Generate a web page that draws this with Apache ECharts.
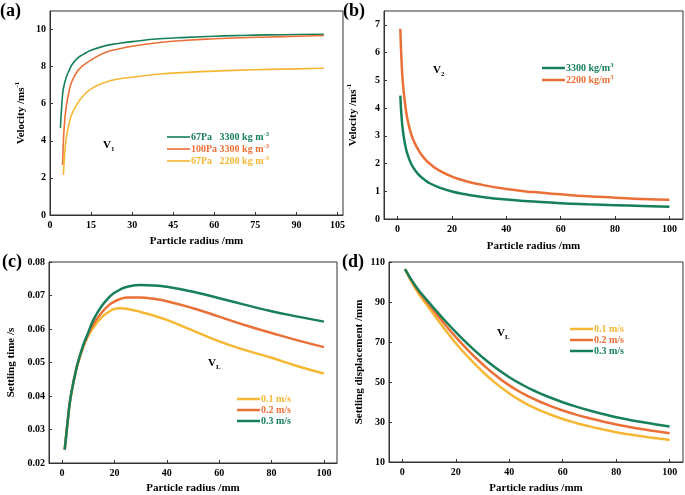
<!DOCTYPE html>
<html><head><meta charset="utf-8">
<script src="https://cdn.jsdelivr.net/npm/echarts@6/dist/echarts.min.js"></script>
<style>html,body{margin:0;padding:0;background:#fff}#c{width:685px;height:495px}</style>
</head><body><div id="c"></div>
<script>
// ---------- data ----------
// (a) V1 velocity vs particle radius
const aRadiusGreen  = [3.8, 4.2, 4.6, 5, 6, 7, 8, 10, 12, 15, 20, 25, 30, 40, 50, 60, 70, 80, 90, 100];
const aVelGreen     = [4.7, 5.7, 6.5, 6.9, 7.45, 7.8, 8.1, 8.45, 8.65, 8.88, 9.12, 9.25, 9.35, 9.5, 9.58, 9.64, 9.68, 9.71, 9.73, 9.75];
const aRadiusOrange = [4.6, 5, 5.5, 6, 7, 8, 10, 12, 15, 20, 25, 30, 40, 50, 60, 70, 80, 90, 100];
const aVelOrange    = [2.7, 4.3, 5.3, 5.9, 6.7, 7.2, 7.75, 8.05, 8.36, 8.75, 8.95, 9.1, 9.3, 9.42, 9.5, 9.56, 9.6, 9.64, 9.68];
const aRadiusYellow = [4.9, 5.3, 6, 7, 8, 10, 12, 15, 20, 25, 30, 40, 50, 60, 70, 80, 90, 100];
const aVelYellow    = [2.16, 3.2, 4.2, 4.95, 5.45, 6.0, 6.4, 6.8, 7.15, 7.33, 7.43, 7.6, 7.69, 7.76, 7.81, 7.85, 7.88, 7.91];
const aNames = ['67Pa   3300 kg m', '100Pa 3300 kg m', '67Pa   2200 kg m'];

// (b) V2 velocity
const bRadius    = [1, 1.5, 2, 3, 4, 5, 6, 8, 10, 12, 15, 20, 25, 30, 40, 50, 60, 70, 80, 90, 100];
const bVel3300   = [4.45, 3.63, 3.15, 2.57, 2.23, 1.99, 1.82, 1.57, 1.41, 1.28, 1.15, 0.99, 0.89, 0.81, 0.70, 0.63, 0.57, 0.53, 0.50, 0.47, 0.44];
const bVel2200   = [6.86, 5.6, 4.85, 3.96, 3.43, 3.07, 2.80, 2.43, 2.17, 1.98, 1.77, 1.53, 1.37, 1.25, 1.08, 0.97, 0.89, 0.82, 0.77, 0.72, 0.69];
const bNames = ['3300 kg/m', '2200 kg/m'];

// (c) settling time
const cRadius = [1, 2, 3, 4, 5, 6, 8, 10, 12, 15, 18, 20, 22, 25, 30, 35, 40, 50, 60, 70, 80, 90, 100];
const cTime01 = [0.024, 0.0315, 0.0383, 0.0428, 0.0465, 0.0497, 0.0545, 0.0580, 0.0605, 0.0634, 0.0652, 0.0660, 0.0662, 0.0660, 0.0651, 0.0640, 0.0627, 0.0595, 0.0563, 0.0537, 0.0514, 0.0489, 0.0467];
const cTime02 = [0.024, 0.0315, 0.0383, 0.0428, 0.0465, 0.0497, 0.0546, 0.0585, 0.0615, 0.0648, 0.0672, 0.0682, 0.0689, 0.0694, 0.0694, 0.0690, 0.0683, 0.0662, 0.0637, 0.0611, 0.0588, 0.0566, 0.0546];
const cTime03 = [0.024, 0.0315, 0.0383, 0.0428, 0.0466, 0.0499, 0.0550, 0.0590, 0.0628, 0.0667, 0.0695, 0.0708, 0.0717, 0.0726, 0.0731, 0.0730, 0.0726, 0.0711, 0.0692, 0.0672, 0.0653, 0.0637, 0.0622];

// (d) settling displacement
const dRadius = [1, 5, 10, 15, 20, 25, 30, 35, 40, 45, 50, 55, 60, 65, 70, 75, 80, 85, 90, 95, 100];
const dDisp01 = [106.4, 96.5, 87.0, 77.9, 69.4, 61.9, 55.2, 49.3, 44.3, 40.1, 36.7, 33.9, 31.5, 29.5, 27.8, 26.3, 24.9, 23.75, 22.75, 21.85, 21.05];
const dDisp02 = [106.4, 97.4, 88.7, 80.3, 72.4, 65.3, 58.9, 53.2, 48.3, 44.3, 41.0, 38.2, 35.8, 33.7, 31.9, 30.25, 28.8, 27.5, 26.35, 25.35, 24.4];
const dDisp03 = [106.4, 97.9, 89.7, 82.1, 74.9, 68.3, 62.3, 57.0, 52.4, 48.5, 45.2, 42.4, 39.9, 37.7, 35.75, 34.0, 32.4, 31.05, 29.85, 28.75, 27.75];
const speedNames = ['0.1 m/s', '0.2 m/s', '0.3 m/s'];

// tick labels
const aXTicks = [0, 15, 30, 45, 60, 75, 90, 105];
const aYTicks = [0, 2, 4, 6, 8, 10];
const bXTicks = [0, 20, 40, 60, 80, 100];
const bYTicks = [0, 1, 2, 3, 4, 5, 6, 7];
const cYTicks = [0.02, 0.03, 0.04, 0.05, 0.06, 0.07, 0.08];
const dYTicks = [10, 30, 50, 70, 90, 110];

// ---------- styling ----------
const GREEN = '#17805a', ORANGE = '#ea7038', YELLOW = '#f6b735';
const FONT = '"Liberation Serif","Times New Roman",serif';
const base = {fontFamily: FONT, fontWeight: 'bold', color: '#000'};

function pairs(xs, ys) { return xs.map((x, i) => [x, ys[i]]); }

function axis(gi, min, max, ticks, name, gap, isY, dec) {
  return {
    type: 'value', gridIndex: gi, min: min, max: max,
    splitLine: {show: false},
    axisLine: {show: true, onZero: false, lineStyle: {color: '#333', width: 1}},
    axisTick: {show: true, inside: true, length: 3, lineStyle: {color: '#333'}, customValues: ticks},
    axisLabel: Object.assign({fontSize: 10, margin: isY ? 4 : 5, customValues: ticks,
      formatter: v => dec ? v.toFixed(dec) : String(v)}, base),
    name: name, nameLocation: 'middle', nameGap: gap,
    nameTextStyle: Object.assign({fontSize: 11,
      rich: {t: Object.assign({fontSize: 11, lineHeight: 14}, base),
             s: Object.assign({fontSize: 7, lineHeight: 7, verticalAlign: 'top'}, base)}}, base)
  };
}

const grids = [
  {left: 50, top: 11, width: 293, height: 204},
  {left: 384, top: 11, width: 299, height: 208},
  {left: 49, top: 262, width: 288, height: 203},
  {left: 389, top: 262, width: 294, height: 202}
].map(g => Object.assign({show: true, borderColor: '#333', borderWidth: 1, backgroundColor: 'transparent'}, g));

const xAxes = [
  axis(0, 0, 107, aXTicks, 'Particle radius /mm', 21, false),
  axis(1, -5, 105, bXTicks, 'Particle radius /mm', 22, false),
  axis(2, -5, 105, bXTicks, 'Particle radius /mm', 20, false),
  axis(3, -5, 105, bXTicks, 'Particle radius /mm', 21, false)
];
const yAxes = [
  axis(0, 0, 11, aYTicks, '{t|Velocity /ms}{s|-1}', 22, true),
  axis(1, 0, 7.5, bYTicks, '{t|Velocity /ms}{s|-1}', 24, true),
  axis(2, 0.02, 0.08, cYTicks, 'Settling time /s', 32, true, 2),
  axis(3, 10, 110, dYTicks, 'Settling displacement /mm', 24, true)
];

function line(name, gi, data, color, w) {
  return {type: 'line', name: name, xAxisIndex: gi, yAxisIndex: gi, data: data,
    showSymbol: false, symbol: 'none', smooth: 0.5,
    color: color, lineStyle: {color: color, width: w}, emphasis: {disabled: true}};
}

const series = [
  line(aNames[0], 0, pairs(aRadiusGreen, aVelGreen), GREEN, 1.6),
  line(aNames[1], 0, pairs(aRadiusOrange, aVelOrange), ORANGE, 1.6),
  line(aNames[2], 0, pairs(aRadiusYellow, aVelYellow), YELLOW, 1.6),
  line(bNames[0], 1, pairs(bRadius, bVel3300), GREEN, 2.5),
  line(bNames[1], 1, pairs(bRadius, bVel2200), ORANGE, 2.5),
  line(speedNames[0], 2, pairs(cRadius, cTime01), YELLOW, 2.5),
  line(speedNames[1], 2, pairs(cRadius, cTime02), ORANGE, 2.5),
  line(speedNames[2], 2, pairs(cRadius, cTime03), GREEN, 2.5),
  line(speedNames[0], 3, pairs(dRadius, dDisp01), YELLOW, 2.5),
  line(speedNames[1], 3, pairs(dRadius, dDisp02), ORANGE, 2.5),
  line(speedNames[2], 3, pairs(dRadius, dDisp03), GREEN, 2.5)
];

const colorOf = {};
[[aNames, [GREEN, ORANGE, YELLOW]], [bNames, [GREEN, ORANGE]], [speedNames, [YELLOW, ORANGE, GREEN]]]
  .forEach(([ns, cs]) => ns.forEach((n, i) => colorOf[n] = cs[i]));
const keyOf = {}; const rich = {};
Object.keys(colorOf).forEach((n, i) => {
  keyOf[n] = 'k' + i;
  rich['k' + i] = Object.assign({}, base, {fontSize: 10, lineHeight: 12, color: colorOf[n]});
  rich['s' + i] = Object.assign({}, base, {fontSize: 6.5, lineHeight: 6, verticalAlign: 'top', color: colorOf[n]});
});
const supOf = {};
aNames.forEach(n => supOf[n] = '-3');
bNames.forEach(n => supOf[n] = '3');

function legend(names, left, top, h) {
  return {
    left: left, top: top, orient: 'vertical', itemGap: 1, padding: 0,
    icon: 'rect', itemWidth: 23, itemHeight: h, selectedMode: false,
    data: names.map(n => ({name: n, itemStyle: {color: colorOf[n]}})),
    textStyle: Object.assign({fontSize: 10, padding: [0, 0, 0, -4], rich: rich}, base),
    formatter: n => {
      const k = keyOf[n];
      return '{' + k + '|' + n + '}' + (supOf[n] ? '{s' + k.slice(1) + '|' + supOf[n] + '}' : '');
    }
  };
}

function label(text, x, y) {
  return {type: 'text', left: x, top: y, style: {text: text, font: 'bold 18px ' + FONT, fill: '#000'}};
}
function vlabel(main, sub, x, y) {
  return {type: 'text', left: x, top: y, style: {
    text: '{v|' + main + '}{b|' + sub + '}',
    rich: {v: {fontFamily: FONT, fontWeight: 'bold', fontSize: 11, lineHeight: 14, fill: '#000'},
           b: {fontFamily: FONT, fontWeight: 'bold', fontSize: 7, lineHeight: 7, verticalAlign: 'bottom', fill: '#000'}}
  }};
}

const option = {
  animation: false,
  backgroundColor: '#fff',
  grid: grids, xAxis: xAxes, yAxis: yAxes, series: series,
  legend: [
    legend(aNames, 167, 131, 1.6),
    legend(bNames, 542, 62, 2.5),
    legend(speedNames, 237, 394, 2.5),
    legend(speedNames, 570, 324, 2.5)
  ],
  graphic: [
    label('(a)', 0, 2), label('(b)', 343, 2), label('(c)', 2, 253), label('(d)', 342, 253),
    vlabel('V', '1', 103, 140), vlabel('V', '2', 433, 65),
    vlabel('V', 'L', 208, 358), vlabel('V', 'L', 497, 328)
  ]
};
const chart = echarts.init(document.getElementById('c'), null, {renderer: 'canvas'});
chart.setOption(option);
</script></body></html>
